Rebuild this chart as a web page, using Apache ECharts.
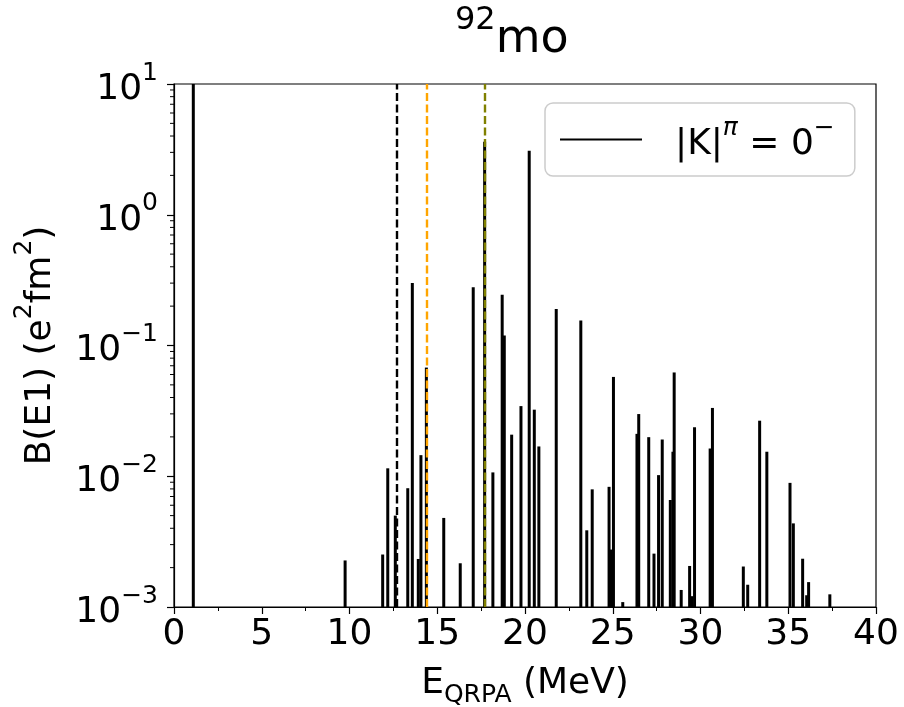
<!DOCTYPE html>
<html>
<head>
<meta charset="utf-8">
<script src="https://cdn.jsdelivr.net/npm/echarts@6/dist/echarts.min.js"></script>
<style>
  html, body { margin: 0; padding: 0; background: #fff; }
  #chart { width: 904px; height: 707px; }
</style>
</head>
<body>
<div id="chart"></div>
<script>
// QRPA excitation energies (MeV) and B(E1) strengths (e^2 fm^2), K^pi = 0^-
const energies = [
  1.10, 9.75, 11.89, 12.18, 12.61, 13.32, 13.58, 13.92, 14.07, 14.38,
  15.37, 16.31, 17.05, 17.70, 18.17, 18.70, 18.82, 19.24, 19.77, 20.24,
  20.53, 20.79, 21.78, 23.18, 23.52, 23.83, 24.79, 24.89, 25.04, 25.57,
  26.38, 26.48, 27.05, 27.35, 27.61, 27.82, 28.28, 28.43, 28.50, 28.90,
  29.38, 29.51, 29.66, 30.55, 30.68, 32.44, 32.69, 33.37, 33.78, 35.10,
  35.29, 35.82, 36.05, 36.16, 37.37
];
const strengths = [
  20, 2.27e-3, 2.52e-3, 0.0115, 5.0e-3, 8.1e-3, 0.30, 2.33e-3, 0.0145, 0.0678,
  4.8e-3, 2.16e-3, 0.279, 3.62, 0.0107, 0.244, 0.119, 0.0208, 0.0344, 3.08,
  0.0323, 0.0169, 0.19, 0.155, 3.86e-3, 7.94e-3, 8.3e-3, 2.75e-3, 0.0575, 1.09e-3,
  0.0211, 0.0299, 0.0199, 2.56e-3, 0.0102, 0.0191, 6.58e-3, 0.0154, 0.0622, 1.35e-3,
  2.06e-3, 1.21e-3, 0.0237, 0.0163, 0.0333, 2.04e-3, 1.48e-3, 0.0266, 0.0154, 8.9e-3,
  4.36e-3, 2.34e-3, 1.23e-3, 1.55e-3, 1.25e-3
];

// Reference energies marked with dashed vertical lines
const refEnergies = [12.69, 14.38, 17.70];
const refColors = ['#000000', '#FFA500', '#808000'];

// Axis ranges and tick settings
const xTicks = [0, 5, 10, 15, 20, 25, 30, 35, 40];
const yMin = 1e-3, yMax = 10;
const decadeExps = [-3, -2, -1, 0];
const minorMantissas = [2, 3, 4, 5, 6, 7, 8, 9];

const FONT = 'DejaVu Sans';
// Superscripts sit at the top of a tall line, the base text at its bottom
const supStyle = (size) => ({
  fontFamily: FONT, fontSize: size, color: '#000', fontWeight: 'normal',
  verticalAlign: 'top'
});
const baseStyle = (size, lh, va) => ({
  fontFamily: FONT, fontSize: size, lineHeight: lh, color: '#000', fontWeight: 'normal',
  verticalAlign: va || 'bottom'
});

const barData = energies.map((e, i) => [e, strengths[i]]);
const minorTickData = [];
decadeExps.forEach(p => minorMantissas.forEach(m => minorTickData.push([0, m * Math.pow(10, p)])));

const chart = echarts.init(document.getElementById('chart'), null, { renderer: 'canvas' });

chart.setOption({
  animation: false,
  backgroundColor: '#fff',
  title: {
    text: '{s|92}{b|mo}',
    left: 455, top: 5, padding: 0,
    textStyle: {
      fontWeight: 'normal',
      rich: { s: supStyle(32), b: baseStyle(46, 58) }
    }
  },
  legend: {
    data: [{ name: 'K0', icon: 'rect' }],
    left: 545, top: 103,
    padding: [13, 20, 13, 15],
    itemWidth: 82, itemHeight: 2,
    backgroundColor: 'rgba(255,255,255,0.8)',
    borderColor: '#cccccc', borderWidth: 1.5, borderRadius: 8,
    formatter: () => '{g|}{b||K|}{si|π}{b| = 0}{s|−}',
    textStyle: {
      rich: {
        g: { width: 28 },
        b: baseStyle(36, 47),
        si: Object.assign(supStyle(25), { fontStyle: 'italic' }),
        s: supStyle(25)
      }
    }
  },
  grid: {
    left: 174, right: 28, top: 84, bottom: 100,
    outerBoundsMode: 'none',
    containLabel: false,
    show: true, borderColor: '#000', borderWidth: 1.2
  },
  xAxis: {
    type: 'value', min: xTicks[0], max: xTicks[xTicks.length - 1], interval: 5,
    name: '{b|E}{sub|QRPA}{b| (MeV)}',
    nameLocation: 'middle', nameGap: 59,
    nameTextStyle: {
      rich: {
        b: baseStyle(36, 36, 'top'),
        sub: { fontFamily: FONT, fontSize: 25, lineHeight: 42, color: '#000', verticalAlign: 'bottom' }
      }
    },
    axisLine: { show: true, lineStyle: { color: '#000', width: 1.2 } },
    axisTick: { show: true, inside: false, length: 7, lineStyle: { color: '#000', width: 1.2 } },
    minorTick: { show: true, splitNumber: 2, length: 4, lineStyle: { color: '#000', width: 1 } },
    splitLine: { show: false },
    axisLabel: { fontFamily: FONT, fontSize: 36, color: '#000', margin: 10 }
  },
  yAxis: {
    type: 'log', logBase: 10, min: yMin, max: yMax,
    name: '{b|B(E1) (e}{s|2}{b|fm}{s|2}{b|)}',
    nameLocation: 'middle', nameGap: 115, nameRotate: 90,
    nameTextStyle: {
      rich: { b: baseStyle(36, 47), s: supStyle(25) }
    },
    axisLine: { show: true, lineStyle: { color: '#000', width: 1.2 } },
    axisTick: { show: true, inside: false, length: 7, lineStyle: { color: '#000', width: 1.2 } },
    splitLine: { show: false },
    axisLabel: {
      margin: 16,
      formatter: v => {
        const n = Math.round(Math.log10(v));
        return '{b|10}{s|' + (n < 0 ? '−' + (-n) : String(n)) + '}';
      },
      rich: { b: baseStyle(36, 47), s: supStyle(25) }
    }
  },
  series: [
    {
      name: 'refs',
      type: 'line',
      data: [],
      z: 1,
      markLine: {
        silent: true,
        symbol: ['none', 'none'],
        label: { show: false },
        lineStyle: { type: [8, 3.5], width: 2.4 },
        data: refEnergies.map((e, i) => ({ xAxis: e, lineStyle: { color: refColors[i], type: [8, 3.5], width: 2.4 } }))
      }
    },
    {
      name: 'K0',
      type: 'custom',
      z: 3,
      clip: true,
      itemStyle: { color: '#000' },
      data: barData,
      renderItem: (params, api) => {
        const top = api.coord([api.value(0), api.value(1)]);
        const base = api.coord([api.value(0), yMin]);
        return {
          type: 'rect',
          shape: { x: top[0] - 1.5, y: top[1], width: 3, height: base[1] - top[1] },
          style: { fill: '#000' }
        };
      }
    },
    {
      name: 'yMinorTicks',
      type: 'custom',
      z: 4,
      clip: false,
      silent: true,
      data: minorTickData,
      renderItem: (params, api) => {
        const p = api.coord([api.value(0), api.value(1)]);
        return {
          type: 'line',
          shape: { x1: p[0] - 4, y1: p[1], x2: p[0], y2: p[1] },
          style: { stroke: '#000', lineWidth: 1 }
        };
      }
    }
  ]
});
</script>
</body>
</html>
